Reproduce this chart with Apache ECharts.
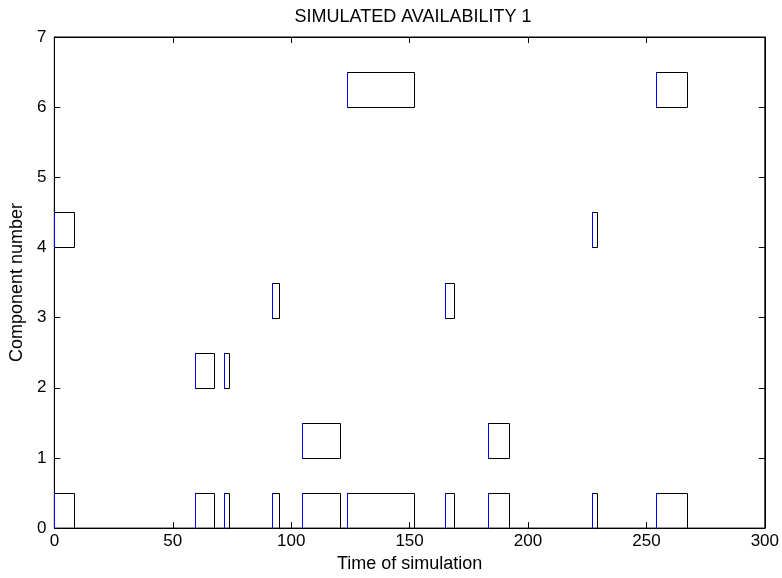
<!DOCTYPE html>
<html>
<head>
<meta charset="utf-8">
<script src="https://cdn.jsdelivr.net/npm/echarts@6/dist/echarts.min.js"></script>
<style>
  html, body { margin: 0; padding: 0; background: #fff; }
  #chart { width: 782px; height: 578px; }
</style>
</head>
<body>
<div id="chart"></div>
<script>
// failure intervals [start, end], one list per component
var comp0Down = [[0, 8.3], [59.5, 67.4], [71.6, 73.6], [91.9, 94.7], [104.6, 120.8],
                 [123.7, 152.0], [164.8, 168.8], [183.0, 192.0], [227.0, 229.2], [254.2, 267.0]]
var comp1Down = [[104.6, 120.8], [183.0, 192.0]]
var comp2Down = [[59.5, 67.4], [71.6, 73.6]]
var comp3Down = [[91.8, 94.7], [164.8, 168.9]]
var comp4Down = [[0, 8.3], [227.0, 229.2]]
var comp6Down = [[123.7, 152.0], [254.2, 267.0]]

var componentIds = [0, 1, 2, 3, 4, 6]
var downLists = [comp0Down, comp1Down, comp2Down, comp3Down, comp4Down, comp6Down]
var boxHeight = 0.5

var fontFam = 'Arial, "Liberation Sans", sans-serif'

var boxData = []
componentIds.forEach(function (c, i) {
    downLists[i].forEach(function (iv) {
        boxData.push([iv[0], iv[1], c])
    })
})

function px(v) { return Math.round(v) + 0.5 }

function renderBox(params, api) {
    var p0 = api.coord([api.value(0), api.value(2)])
    var p1 = api.coord([api.value(1), api.value(2) + boxHeight])
    var x0 = px(p0[0]), x1 = px(p1[0]), yb = px(p0[1]), yt = px(p1[1])
    return {
        type: 'group',
        children: [
            {
                type: 'rect',
                z2: 1,
                shape: { x: x0, y: yt, width: x1 - x0, height: yb - yt },
                style: { stroke: '#000', lineWidth: 1, fill: 'none' }
            },
            {
                // blue start edge
                type: 'rect',
                z2: 10,
                shape: { x: x0 - 0.5, y: yt - 0.5, width: 1, height: yb - yt + 1 },
                style: { fill: '#0000ff', stroke: 'none' }
            }
        ]
    }
}

var chart = echarts.init(document.getElementById('chart'))

var axisLineStyle = { color: '#000', width: 1 }

var option = {
    animation: false,
    backgroundColor: '#fff',
    title: {
        text: 'SIMULATED AVAILABILITY 1',
        left: 408,
        top: 3,
        textAlign: 'center',
        textStyle: { fontFamily: fontFam, fontSize: 18, fontWeight: 'normal', color: '#000' }
    },
    grid: { left: 53, right: 17, top: 37, bottom: 49, show: true, borderColor: '#000', borderWidth: 1, backgroundColor: 'transparent' },
    xAxis: [
        {
            type: 'value', min: 0, max: 300, interval: 50,
            name: 'Time of simulation', nameLocation: 'middle', nameGap: 22,
            nameTextStyle: { fontFamily: fontFam, fontSize: 18, color: '#000' },
            axisLine: { show: true, onZero: false, lineStyle: axisLineStyle },
            axisTick: { show: true, inside: true, length: 6, lineStyle: axisLineStyle },
            axisLabel: { fontFamily: fontFam, fontSize: 17, color: '#000', margin: 5 },
            splitLine: { show: false }
        },
        {
            type: 'value', min: 0, max: 300, interval: 50, position: 'top',
            axisLine: { show: true, onZero: false, lineStyle: axisLineStyle },
            axisTick: { show: true, inside: true, length: 6, lineStyle: axisLineStyle },
            axisLabel: { show: false },
            splitLine: { show: false }
        }
    ],
    yAxis: [
        {
            type: 'value', min: 0, max: 7, interval: 1,
            name: 'Component number', nameLocation: 'middle', nameGap: 22,
            nameTextStyle: { fontFamily: fontFam, fontSize: 18, color: '#000' },
            axisLine: { show: true, onZero: false, lineStyle: axisLineStyle },
            axisTick: { show: true, inside: true, length: 6, lineStyle: axisLineStyle },
            axisLabel: { fontFamily: fontFam, fontSize: 17, color: '#000', margin: 8 },
            splitLine: { show: false }
        },
        {
            type: 'value', min: 0, max: 7, interval: 1, position: 'right',
            axisLine: { show: true, onZero: false, lineStyle: axisLineStyle },
            axisTick: { show: true, inside: true, length: 6, lineStyle: axisLineStyle },
            axisLabel: { show: false },
            splitLine: { show: false }
        }
    ],
    series: [
        {
            type: 'custom',
            xAxisIndex: 0,
            yAxisIndex: 0,
            renderItem: renderBox,
            encode: { x: [0, 1], y: 2 },
            data: boxData,
            clip: false
        },
        {
            // binds the top and right frame axes so their ticks get drawn
            type: 'line',
            xAxisIndex: 1,
            yAxisIndex: 1,
            data: []
        }
    ]
}

chart.setOption(option)
</script>
</body>
</html>
